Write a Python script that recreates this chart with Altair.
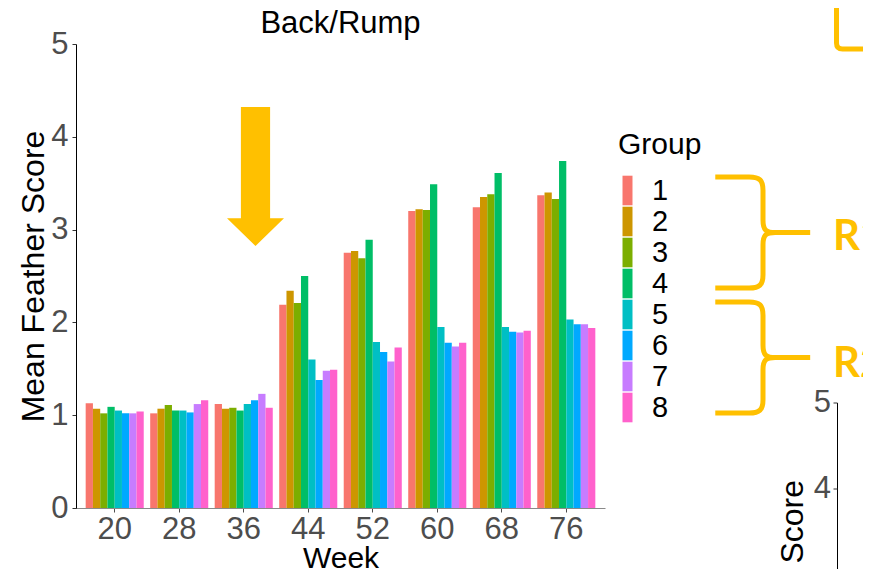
import altair as alt
import pandas as pd

weeks = [20, 28, 36, 44, 52, 60, 68, 76]
groups = ["1", "2", "3", "4", "5", "6", "7", "8"]
colors = ["#F8766D", "#CD9600", "#7CAE00", "#00BE67", "#00BFC4", "#00A9FF", "#C77CFF", "#FF61CC"]

# mean feather score per week, groups 1..8
score_w20 = [1.13, 1.07, 1.02, 1.09, 1.05, 1.02, 1.02, 1.04]
score_w28 = [1.02, 1.07, 1.11, 1.05, 1.05, 1.03, 1.12, 1.16]
score_w36 = [1.12, 1.07, 1.08, 1.05, 1.12, 1.16, 1.23, 1.08]
score_w44 = [2.19, 2.34, 2.21, 2.50, 1.60, 1.38, 1.48, 1.49]
score_w52 = [2.75, 2.77, 2.69, 2.89, 1.79, 1.68, 1.58, 1.73]
score_w60 = [3.20, 3.22, 3.21, 3.49, 1.95, 1.78, 1.74, 1.78]
score_w68 = [3.24, 3.35, 3.38, 3.61, 1.95, 1.90, 1.89, 1.91]
score_w76 = [3.37, 3.40, 3.33, 3.74, 2.03, 1.98, 1.98, 1.94]
scores = [score_w20, score_w28, score_w36, score_w44, score_w52, score_w60, score_w68, score_w76]

rows = []
for w, vals in zip(weeks, scores):
    for g, v in zip(groups, vals):
        rows.append({"Week": w, "Group": g, "Score": v})
df = pd.DataFrame(rows)

ORANGE = "#FFC000"
FONT = "Liberation Sans"

bars = alt.Chart(df).mark_bar().encode(
    x=alt.X("Week:O", scale=alt.Scale(paddingInner=0.1, paddingOuter=0.15),
            axis=alt.Axis(title="Week", labelAngle=0, labelFontSize=31, labelColor="#4D4D4D",
                          tickSize=4, tickColor="#4D4D4D", labelPadding=2, domainColor="#8A8A8A",
                          domainWidth=1.2, titleFontSize=30, titleFontWeight="normal",
                          titleColor="black", titleX=264.5, titleY=59, titleBaseline="alphabetic",
                          titleAlign="center")),
    xOffset=alt.XOffset("Group:N", sort=groups),
    y=alt.Y("Score:Q", scale=alt.Scale(domain=[0, 5], nice=False, zero=True),
            axis=alt.Axis(title="Mean Feather Score", values=[0, 1, 2, 3, 4, 5], grid=False,
                          labelFontSize=31, labelColor="#4D4D4D", tickSize=4, tickColor="#333333",
                          labelPadding=4, domainColor="black", domainWidth=1,
                          titleFontSize=32, titleFontWeight="normal", titleColor="black",
                          titleAngle=270, titleX=-33, titleY=232, titleBaseline="alphabetic",
                          titleAlign="center")),
    color=alt.Color("Group:N", scale=alt.Scale(domain=groups, range=colors),
                    legend=alt.Legend(title="Group", orient="none", legendX=542, legendY=86,
                                      titleFontSize=30, titleFontWeight="normal", titleColor="black",
                                      titleBaseline="top", titlePadding=16,
                                      labelFontSize=29, labelColor="black", labelOffset=5,
                                      symbolType="M-1,-1.48L0,-1.48L0,1.48L-1,1.48Z", symbolSize=400,
                                      symbolStrokeWidth=0, symbolOpacity=1, rowPadding=0)),
)

one = pd.DataFrame({"k": [0]})

title = alt.Chart(one).mark_text(
    text="Back/Rump", font=FONT, fontSize=31, color="black", align="center", baseline="alphabetic"
).encode(x=alt.value(264.5), y=alt.value(-11))

arrow = alt.Chart(one).mark_point(
    shape="M-0.21,-1L0.21,-1L0.21,0.6L0.41,0.6L0,1L-0.41,0.6L-0.21,0.6Z",
    size=19321, filled=True, fill=ORANGE, strokeWidth=0, opacity=1
).encode(x=alt.value(179.5), y=alt.value(132.5))

brace_path = ("M-0.86,-1L-0.25,-1C-0.06,-1 0,-0.94 0,-0.76L0,-0.22C0,-0.05 0.05,0 0.22,0L0.85,0"
              "M0.22,0C0.05,0 0,0.05 0,0.22L0,0.76C0,0.94 -0.06,1 -0.25,1L-0.86,1")
brace1 = alt.Chart(one).mark_point(
    shape=brace_path, size=12321, filled=False, stroke=ORANGE, strokeWidth=5, opacity=1
).encode(x=alt.value(687), y=alt.value(188.5))
brace2 = alt.Chart(one).mark_point(
    shape=brace_path, size=12321, filled=False, stroke=ORANGE, strokeWidth=5, opacity=1
).encode(x=alt.value(687), y=alt.value(313.5))

corner = alt.Chart(one).mark_point(
    shape="M0,-2L0,-0.12Q0,0 0.12,0L2,0", size=10000, filled=False,
    stroke=ORANGE, strokeWidth=5, opacity=1
).encode(x=alt.value(760.5), y=alt.value(5))

r_labels = pd.DataFrame({"t": ["R1", "R2"], "py": [206, 333]})
rtext = alt.Chart(r_labels).mark_text(
    font="Lato", fontWeight="bold", fontSize=42, color=ORANGE, align="left", baseline="alphabetic"
).encode(x=alt.value(757), y=alt.Y("py:Q", scale=None), text="t:N")

# partial second panel peeking in at bottom right
axis2 = alt.Chart(one).mark_rule(color="black", strokeWidth=1).encode(
    x=alt.value(761.5), y=alt.value(359), y2=alt.value(540))
ticks2_df = pd.DataFrame({"py": [359, 445], "lab": ["5", "4"]})
ticks2 = alt.Chart(ticks2_df).mark_rule(color="#333333", strokeWidth=1).encode(
    x=alt.value(757.5), x2=alt.value(761.5), y=alt.Y("py:Q", scale=None))
ticklab2 = alt.Chart(ticks2_df).mark_text(
    font=FONT, fontSize=31, color="#4D4D4D", align="right", baseline="middle"
).encode(x=alt.value(755), y=alt.Y("py:Q", scale=None), text="lab:N")
ytitle2 = alt.Chart(one).mark_text(
    text="Mean Feather Score", font=FONT, fontSize=32, color="black", angle=270,
    align="right", baseline="alphabetic"
).encode(x=alt.value(727), y=alt.value(436))

chart = alt.layer(
    bars, title, arrow, brace1, brace2, corner, rtext, axis2, ticks2, ticklab2, ytitle2
).properties(
    width=529, height=464,
    autosize=alt.AutoSizeParams(type="none"),
    padding={"left": 68, "top": 36, "right": 258, "bottom": 61},
).configure(font=FONT).configure_view(stroke=None).configure_axis(
    labelFont=FONT, titleFont=FONT
).configure_legend(labelFont=FONT, titleFont=FONT)

chart.save("out.html", embed_options={"renderer": "svg", "actions": False})
